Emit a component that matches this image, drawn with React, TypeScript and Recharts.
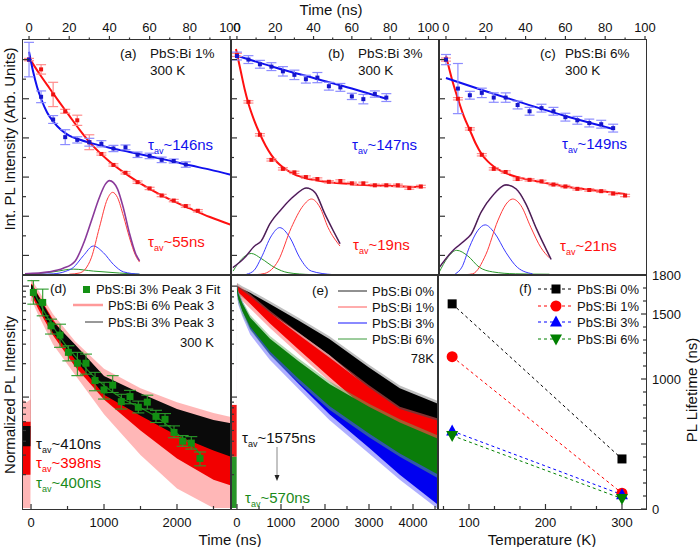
import React from "react";
import { ComposedChart, Line, Area, Scatter, XAxis, YAxis, ErrorBar } from "recharts";

const FONT = '"Liberation Sans", Arial, Helvetica, sans-serif';
const P = 30;

// ---------- (a) PbS:Bi 1%, 300 K ----------
const aRedT = [0, 6, 12, 18, 24, 30, 36, 42, 48, 54, 60, 66, 72, 78, 84];
const aRed = [5.5, 5.25, 4.61, 4.18, 3.95, 3.39, 3.09, 2.81, 2.61, 2.37, 2.21, 2.03, 1.9, 1.76, 1.64];
const aRedErr = [0.03, 0.12, 0.31, 0.05, 0.13, 0.19, 0.03, 0.03, 0.03, 0.03, 0.03, 0.03, 0.03, 0.03, 0.03];
const aBlueT = [0, 6, 12, 18, 24, 30, 36, 42, 48, 54, 60, 66, 72, 78];
const aBlue = [5.5, 4.55, 3.97, 3.52, 3.45, 3.39, 3.35, 3.23, 3.26, 3.07, 3.04, 2.94, 2.91, 2.82];
const aBlueErr = [0.44, 0.15, 0.1, 0.19, 0.08, 0.1, 0.08, 0.08, 0.06, 0.07, 0.07, 0.07, 0.05, 0.07];
const aRedFitT = [0, 5, 10, 15, 20, 25, 30, 40, 50, 60, 70, 80, 90, 100.5];
const aRedFit = [5.55, 5.15, 4.78, 4.42, 4.07, 3.72, 3.4, 2.9, 2.52, 2.2, 1.93, 1.7, 1.48, 1.28];
const aBlueFitT = [0, 2, 4, 6, 9, 12, 16, 20, 25, 30, 40, 50, 60, 70, 80, 90, 100.5];
const aBlueFit = [5.7, 5.2, 4.8, 4.5, 4.15, 3.92, 3.7, 3.56, 3.46, 3.38, 3.25, 3.14, 3.03, 2.92, 2.8, 2.69, 2.56];
const aTotT = [-2, 10, 17, 23, 27, 31, 35, 38, 40, 42, 44, 47, 50, 53, 55];
const aTot = [0.03, 0.08, 0.17, 0.36, 0.79, 1.38, 1.98, 2.32, 2.41, 2.36, 2.2, 1.7, 1.06, 0.55, 0.36];
const aPkRT = [20, 25, 28, 31, 35, 39, 41.6, 44, 47, 50, 53, 55];
const aPkR = [0.02, 0.05, 0.15, 0.44, 1.21, 1.94, 2.11, 1.98, 1.5, 0.95, 0.5, 0.33];
const aPkBT = [5, 12, 18, 22, 27, 32, 37, 42, 47, 55];
const aPkB = [0.02, 0.03, 0.09, 0.19, 0.49, 0.74, 0.57, 0.27, 0.08, 0.02];
const aPkGT = [-2, 5, 12, 22, 32, 45, 55];
const aPkG = [0.02, 0.04, 0.08, 0.15, 0.1, 0.05, 0.02];

// ---------- (b) PbS:Bi 3%, 300 K ----------
const bBlueT = [0, 6, 12, 18, 24, 30, 36, 42, 48, 54, 60, 66, 72, 78];
const bBlue = [5.59, 5.5, 5.38, 5.32, 5.2, 5.11, 5.0, 5.04, 4.82, 4.79, 4.56, 4.49, 4.62, 4.53];
const bBlueErr = [0.1, 0.1, 0.1, 0.1, 0.12, 0.12, 0.1, 0.13, 0.1, 0.1, 0.08, 0.12, 0.08, 0.1];
const bRedT = [0, 6, 12, 18, 24, 30, 36, 42, 48, 54, 60, 66, 72, 78, 84, 90, 96];
const bRed = [5.62, 4.42, 3.58, 2.94, 2.71, 2.62, 2.5, 2.45, 2.38, 2.4, 2.34, 2.34, 2.29, 2.29, 2.29, 2.22, 2.26];
const bRedErr = [0.04, 0.03, 0.03, 0.03, 0.03, 0.03, 0.03, 0.03, 0.03, 0.03, 0.03, 0.03, 0.03, 0.03, 0.03, 0.03, 0.03];
const bBlueFitT = [0, 20, 40, 60, 78];
const bBlueFit = [5.6, 5.3, 5.03, 4.76, 4.5];
const bRedFitT = [-0.5, 2, 4, 6, 9, 12, 15, 18, 21, 24, 30, 36, 45, 60, 80, 97];
const bRedFit = [5.77, 5.2, 4.75, 4.38, 3.95, 3.6, 3.3, 3.06, 2.88, 2.75, 2.57, 2.47, 2.39, 2.32, 2.27, 2.24];
const bTotT = [-2.1, 4, 9.2, 12.7, 17.1, 23.2, 30.2, 36.3, 40.7, 45.9, 50.3, 53.8];
const bTot = [0.19, 0.44, 0.74, 0.87, 1.3, 1.68, 2.03, 2.22, 2.11, 1.56, 1.13, 0.8];
const bPkRT = [10, 14.5, 21.5, 28.4, 34.6, 38.9, 43.3, 47.6, 53.8];
const bPkR = [0.01, 0.04, 0.36, 1.21, 1.77, 1.94, 1.73, 1.21, 0.74];
const bPkBT = [5, 9, 12.7, 18, 22.3, 27.6, 32.8, 38.9, 50];
const bPkB = [0.02, 0.12, 0.44, 1.0, 1.21, 0.96, 0.44, 0.1, 0.01];
const bPkGT = [-2, 2.3, 7.5, 12.7, 19.7, 26.7, 38.9];
const bPkG = [0.1, 0.4, 0.55, 0.42, 0.19, 0.06, 0.01];

// ---------- (c) PbS:Bi 6%, 300 K ----------
const cBlueT = [0, 6, 12, 18, 24, 30, 36, 42, 48, 54, 60, 66, 72, 78, 84];
const cBlue = [5.5, 4.76, 4.59, 4.65, 4.53, 4.53, 4.34, 4.18, 4.26, 4.18, 4.03, 3.95, 3.88, 3.85, 3.75];
const cBlueErr = [0.13, 0.64, 0.1, 0.12, 0.12, 0.12, 0.1, 0.1, 0.1, 0.1, 0.1, 0.1, 0.1, 0.1, 0.1];
const cRedT = [0, 6, 12, 18, 24, 30, 36, 42, 48, 54, 60, 66, 72, 78, 84, 90];
const cRed = [5.5, 4.5, 3.73, 3.07, 2.71, 2.63, 2.45, 2.43, 2.39, 2.31, 2.26, 2.2, 2.17, 2.14, 2.08, 2.03];
const cRedErr = [0.04, 0.03, 0.03, 0.03, 0.03, 0.03, 0.03, 0.03, 0.03, 0.03, 0.03, 0.03, 0.03, 0.03, 0.03, 0.03];
const cBlueFitT = [0, 20, 40, 60, 84];
const cBlueFit = [5.03, 4.69, 4.37, 4.06, 3.73];
const cRedFitT = [0, 3, 6, 9, 12, 15, 18, 21, 24, 30, 36, 45, 60, 75, 90];
const cRedFit = [5.6, 5.0, 4.5, 4.05, 3.7, 3.35, 3.08, 2.9, 2.77, 2.6, 2.5, 2.4, 2.26, 2.16, 2.07];
const cTotT = [-3.4, 3.4, 9.2, 12.6, 17.6, 23.5, 30.2, 35.2, 40.2, 45.2, 50.3, 52.8];
const cTot = [0.19, 0.62, 0.87, 1.04, 1.6, 2.03, 2.3, 2.2, 1.81, 1.21, 0.66, 0.4];
const cPkRT = [10, 13.4, 20.1, 26, 30.2, 33.5, 37.7, 42.7, 47.7, 51.9];
const cPkR = [0.01, 0.03, 0.53, 1.38, 1.81, 1.94, 1.77, 1.21, 0.7, 0.44];
const cPkBT = [4.7, 8, 11.7, 15.9, 19.7, 24.3, 30.2, 36, 43.5];
const cPkB = [0.03, 0.2, 0.7, 1.13, 1.28, 1.08, 0.57, 0.19, 0.03];
const cPkGT = [-3.4, 0.8, 5.4, 10.9, 16.7, 23.4, 35, 52];
const cPkG = [0.07, 0.44, 0.63, 0.49, 0.2, 0.08, 0.03, 0.02];

// ---------- (d) peak 3 decays, 300 K (log) ----------
const dT = [-110, -60, -8, 0, 20, 100, 300, 600, 1000, 1500, 2000, 2500, 2740];
const dRedHaloLo = [0.1, 0.1, 0.1, 7.4, 7.2, 5.5, 3.0, 1.6, 0.7, 0.3, 0.15, 0.1, 0.1];
const dRedHaloHi = [0.95, 0.9, 0.95, 11.5, 11.2, 9.2, 5.6, 3.2, 1.8, 1.2, 0.9, 0.72, 0.66];
const dRedLo = [0.2, 0.2, 0.2, 8.2, 8.0, 6.2, 3.6, 1.9, 0.95, 0.5, 0.28, 0.18, 0.16];
const dRedHi = [0.6, 0.6, 0.6, 10.5, 10.3, 8.3, 5.0, 2.75, 1.5, 0.98, 0.7, 0.55, 0.5];
const dBlkLo = [0.36, 0.36, 0.36, 8.6, 8.4, 6.8, 3.8, 2.2, 1.05, 0.68, 0.45, 0.33, 0.29];
const dBlkHi = [0.55, 0.55, 0.55, 10.3, 10.1, 8.2, 4.8, 3.0, 1.55, 1.08, 0.78, 0.62, 0.58];
const dFitPtT = [32, 160, 274, 397, 512, 635, 753, 877, 1000, 1119, 1237, 1356, 1470, 1593, 1712, 1836, 1959, 2078, 2196, 2315];
const dFitPt = [8.77, 7.13, 4.39, 3.62, 2.53, 2.02, 2.02, 1.41, 1.16, 1.28, 0.91, 1.01, 0.81, 0.9, 0.67, 0.63, 0.48, 0.4, 0.385, 0.28];
const dFitPtLo = [6.88, 5.4, 3.7, 2.81, 2.12, 1.56, 1.61, 1.14, 0.96, 1.1, 0.78, 0.87, 0.72, 0.78, 0.59, 0.55, 0.43, 0.36, 0.34, 0.24];
const dFitPtHi = [11.2, 9.4, 5.04, 4.54, 2.9, 2.53, 2.44, 1.67, 1.36, 1.56, 1.06, 1.15, 0.92, 1.04, 0.76, 0.71, 0.55, 0.45, 0.44, 0.32];
const dFitT = [30, 100, 200, 300, 450, 600, 800, 1000, 1250, 1500, 1750, 2000, 2200, 2330];
const dFit = [9.0, 7.4, 5.6, 4.35, 3.1, 2.35, 1.68, 1.27, 0.97, 0.8, 0.64, 0.47, 0.37, 0.3];

// ---------- (e) 78 K decays (log) ----------
const eT = [-4, 0, 30, 120, 300, 750, 1400, 2100, 3000, 3700, 4570];
const eBlkHaloLo = [0.098, 8.5, 8.3, 7.9, 7.1, 5.3, 3.55, 2.24, 1.11, 0.68, 0.45];
const eBlkHaloHi = [0.11, 10.7, 10.5, 10.0, 9.2, 7.3, 5.2, 3.53, 1.96, 1.27, 0.92];
const eBlkLo = [0.098, 9.1, 8.9, 8.5, 7.6, 5.7, 3.8, 2.4, 1.19, 0.73, 0.48];
const eBlkHi = [0.11, 10.1, 9.9, 9.4, 8.7, 6.9, 4.9, 3.33, 1.85, 1.2, 0.87];
const eRedHaloLo = [0.098, 8.3, 7.95, 7.4, 6.3, 4.2, 2.44, 1.38, 0.67, 0.39, 0.27];
const eRedHaloHi = [0.11, 10.6, 10.1, 9.6, 8.5, 6.0, 3.83, 2.38, 1.28, 0.82, 0.64];
const eRedLo = [0.098, 9.1, 8.75, 8.15, 6.95, 4.6, 2.68, 1.52, 0.74, 0.43, 0.3];
const eRedHi = [0.11, 10.1, 9.65, 9.15, 8.1, 5.75, 3.65, 2.27, 1.22, 0.78, 0.61];
const eBluHaloLo = [0.098, 8.1, 6.8, 5.35, 3.66, 2.16, 1.18, 0.62, 0.31, 0.18, 0.098];
const eBluHaloHi = [0.11, 10.6, 9.0, 7.35, 5.25, 3.3, 2.0, 1.21, 0.7, 0.46, 0.28];
const eBluLo = [0.098, 9.1, 7.65, 6.0, 4.1, 2.42, 1.32, 0.7, 0.35, 0.2, 0.107];
const eBluHi = [0.11, 10.1, 8.6, 7.0, 5.0, 3.15, 1.9, 1.15, 0.67, 0.44, 0.27];
const eGrnHaloLo = [0.098, 8.4, 7.1, 5.55, 4.0, 2.39, 1.35, 0.77, 0.435, 0.29, 0.185];
const eGrnHaloHi = [0.11, 10.7, 9.1, 7.4, 5.5, 3.55, 2.23, 1.39, 0.87, 0.63, 0.45];
const eGrnLo = [0.098, 9.1, 7.65, 6.0, 4.3, 2.58, 1.46, 0.83, 0.47, 0.31, 0.2];
const eGrnHi = [0.11, 10.1, 8.6, 7.0, 5.2, 3.35, 2.1, 1.31, 0.82, 0.59, 0.42];
const ePreT = [-136, -8];
const ePreRedLo = [0.29, 0.29];
const ePreRedHi = [0.85, 0.85];
const ePreGrnLo = [0.1, 0.1];
const ePreGrnHi = [0.29, 0.29];

// ---------- (f) lifetime vs temperature ----------
const fTemp = [78, 300];
const fBi0 = [1578, 385];
const fBi1 = [1172, 122];
const fBi3 = [600, 110];
const fBi6 = [565, 80];

// ---------- ticks ----------
const topTicks = [0, 10, 20, 30, 40, 50, 60, 70, 80, 90, 100];
const topMajor = [0, 20, 40, 60, 80, 100];
const rowTicks = [0.5, 1, 1.5, 2, 2.5, 3, 3.5, 4, 4.5, 5, 5.5];
const rowMajor = [0.5, 1.5, 2.5, 3.5, 4.5, 5.5];
const logTicks = [0.2, 0.3, 0.4, 0.5, 0.6, 0.7, 0.8, 0.9, 1, 2, 3, 4, 5, 6, 7, 8, 9, 10];
const logMajor = [1, 10];
const dTicks = [0, 500, 1000, 1500, 2000, 2500];
const dMajor = [0, 1000, 2000];
const eTicks = [0, 500, 1000, 1500, 2000, 2500, 3000, 3500, 4000, 4500];
const eMajor = [0, 1000, 2000, 3000, 4000];
const fXTicks = [66.67, 100, 133.33, 166.67, 200, 233.33, 266.67, 300];
const fXMajor = [100, 200, 300];
const fYTicks = [0, 100, 200, 300, 400, 500, 600, 700, 800, 900, 1000, 1100, 1200, 1300, 1400, 1500, 1600, 1700, 1800];
const fYMajor = [0, 500, 1000, 1500, 1800];
const fYLabels = [0, 1000, 1500, 1800];

const pts = (xs: number[], ys: number[]) => xs.map((x, i) => ({ x, y: ys[i] }));
const errPts = (xs: number[], ys: number[], es: number[]) => xs.map((x, i) => ({ x, y: ys[i], e: es[i] }));
const rangePts = (xs: number[], ys: number[], lo: number[], hi: number[]) =>
  xs.map((x, i) => ({ x, y: ys[i], e: [ys[i] - lo[i], hi[i] - ys[i]] }));
const band = (xs: number[], lo: number[], hi: number[]) => xs.map((x, i) => ({ x, r: [lo[i], hi[i]] }));

const has = (arr: number[], v: number) => arr.some((m) => Math.abs(m - v) < 1e-6);

function makeTick(side: string, majors: number[], labels: number[], inward: boolean, majLen = 6, minLen = 3) {
  return (p: any) => {
    const v = Number(p.payload.value);
    const len = has(majors, v) ? majLen : minLen;
    const s = inward ? 1 : -1;
    const x = p.x;
    const y = p.y;
    let x2 = x;
    let y2 = y;
    if (side === "bottom") y2 = y - s * len;
    if (side === "top") y2 = y + s * len;
    if (side === "left") x2 = x + s * len;
    if (side === "right") x2 = x - s * len;
    let label = null;
    if (has(labels, v)) {
      const txt = Math.round(v).toString();
      if (side === "top")
        label = <text x={x} y={y - 13} textAnchor="middle" dominantBaseline="central" fontSize={13} fill="#111">{txt}</text>;
      if (side === "bottom")
        label = <text x={x} y={y + 13} textAnchor="middle" dominantBaseline="central" fontSize={13} fill="#111">{txt}</text>;
      if (side === "right")
        label = <text x={x + 6} y={y} textAnchor="start" dominantBaseline="central" fontSize={13} fill="#111">{txt}</text>;
    }
    return (
      <g>
        <line x1={x} y1={y} x2={x2} y2={y2} stroke="#333" strokeWidth={1.2} />
        {label}
      </g>
    );
  };
}

const topTick = makeTick("top", topMajor, topMajor, false, 4, 2.5);
const rowTick = makeTick("left", rowMajor, [], true, 6, 3);
const logTick = makeTick("left", logMajor, [], true, 6, 3);

type Box = { x0: number; y0: number; x1: number; y1: number };
const A: Box = { x0: 23, y0: 40, x1: 231, y1: 275 };
const B: Box = { x0: 231, y0: 40, x1: 439, y1: 275 };
const C: Box = { x0: 439, y0: 40, x1: 646, y1: 275 };
const D: Box = { x0: 23, y0: 275, x1: 231, y1: 509 };
const E: Box = { x0: 231, y0: 275, x1: 438, y1: 509 };
const F: Box = { x0: 438, y0: 275, x1: 646, y1: 509 };

const sq = (color: string, s: number) => (p: any) =>
  <rect x={p.cx - s / 2} y={p.cy - s / 2} width={s} height={s} fill={color} />;

function TopPanel(props: any) {
  const { box, xd, red, blue, redFit, blueFit, tot, pkR, pkB, pkG, dark } = props;
  const w = box.x1 - box.x0;
  const h = box.y1 - box.y0;
  return (
    <div style={{ position: "absolute", left: box.x0 - P, top: box.y0 - P }}>
      <ComposedChart width={w + 2 * P} height={h + 2 * P} margin={{ top: 0, right: P, bottom: P, left: 0 }}>
        <XAxis dataKey="x" type="number" orientation="top" height={P} domain={xd} allowDataOverflow
          ticks={topTicks} interval={0} tickSize={0} tickMargin={0} tickLine={false} axisLine={false} tick={topTick} />
        <YAxis type="number" width={P} domain={[0, 6]} allowDataOverflow ticks={rowTicks} interval={0}
          tickSize={0} tickMargin={0} tickLine={false} axisLine={false} tick={rowTick} />
        <Line data={pkG} dataKey="y" type="monotone" stroke="#2a9a2a" strokeWidth={1} dot={false} isAnimationActive={false} />
        <Line data={pkB} dataKey="y" type="monotone" stroke="#3a3aff" strokeWidth={1} dot={false} isAnimationActive={false} />
        <Line data={pkR} dataKey="y" type="monotone" stroke="#ff3a3a" strokeWidth={1} dot={false} isAnimationActive={false} />
        <Line data={tot} dataKey="y" type="monotone" stroke="#8a3a9a" strokeWidth={1.6} dot={false} isAnimationActive={false} />
        {dark ? (
          <Line data={tot} dataKey="y" type="monotone" stroke="#222" strokeWidth={0.8} dot={false} isAnimationActive={false} />
        ) : null}
        <Line data={redFit} dataKey="y" type="monotone" stroke="#ff1010" strokeWidth={2} dot={false} isAnimationActive={false} />
        <Line data={blueFit} dataKey="y" type="monotone" stroke="#1010ee" strokeWidth={2} dot={false} isAnimationActive={false} />
        <Scatter data={red} dataKey="y" shape={sq("#ee1111", 4)} isAnimationActive={false}>
          <ErrorBar dataKey="e" direction="y" width={5} stroke="#ff8c8c" strokeWidth={1.2} />
        </Scatter>
        <Scatter data={blue} dataKey="y" shape={sq("#1515cc", 4)} isAnimationActive={false}>
          <ErrorBar dataKey="e" direction="y" width={5} stroke="#8c8cff" strokeWidth={1.2} />
        </Scatter>
      </ComposedChart>
    </div>
  );
}

function PanelD() {
  const box = D;
  const w = box.x1 - box.x0;
  const h = box.y1 - box.y0;
  return (
    <div style={{ position: "absolute", left: box.x0 - P, top: box.y0 - P }}>
      <ComposedChart width={w + 2 * P} height={h + 2 * P} margin={{ top: P, right: P, bottom: 0, left: 0 }}>
        <XAxis dataKey="x" type="number" orientation="bottom" height={P} domain={[-110, 2740]} allowDataOverflow
          ticks={dTicks} interval={0} tickSize={0} tickMargin={0} tickLine={false} axisLine={false}
          tick={makeTick("bottom", dMajor, dMajor, true, 5, 3)} />
        <YAxis type="number" scale="log" width={P} domain={[0.098, 12.6]} allowDataOverflow ticks={logTicks}
          interval={0} tickSize={0} tickMargin={0} tickLine={false} axisLine={false} tick={logTick} />
        <Area data={band(dT, dRedHaloLo, dRedHaloHi)} dataKey="r" type="linear" stroke="none" fill="#ff7070" fillOpacity={0.5} dot={false} activeDot={false} isAnimationActive={false} />
        <Area data={band(dT, dRedLo, dRedHi)} dataKey="r" type="linear" stroke="none" fill="#f20000" fillOpacity={1} dot={false} activeDot={false} isAnimationActive={false} />
        <Area data={band(dT, dBlkLo, dBlkHi)} dataKey="r" type="linear" stroke="none" fill="#0a0a0a" fillOpacity={1} dot={false} activeDot={false} isAnimationActive={false} />
        <Line data={pts(dFitT, dFit)} dataKey="y" type="monotone" stroke="#1a8a1a" strokeWidth={1.2} dot={false} isAnimationActive={false} />
        <Scatter data={rangePts(dFitPtT, dFitPt, dFitPtLo, dFitPtHi)} dataKey="y" shape={sq("#139013", 7)} isAnimationActive={false}>
          <ErrorBar dataKey="e" direction="y" width={6} stroke="#2a9a2a" strokeWidth={1.1} />
        </Scatter>
      </ComposedChart>
    </div>
  );
}

function PanelE() {
  const box = E;
  const w = box.x1 - box.x0;
  const h = box.y1 - box.y0;
  const A2 = (lo: number[], hi: number[], c: string, op: number, xs = eT) => (
    <Area data={band(xs, lo, hi)} dataKey="r" type="linear" stroke="none" fill={c} fillOpacity={op} dot={false} activeDot={false} isAnimationActive={false} />
  );
  return (
    <div style={{ position: "absolute", left: box.x0 - P, top: box.y0 - P }}>
      <ComposedChart width={w + 2 * P} height={h + 2 * P} margin={{ top: P, right: P, bottom: 0, left: 0 }}>
        <XAxis dataKey="x" type="number" orientation="bottom" height={P} domain={[-136, 4568]} allowDataOverflow
          ticks={eTicks} interval={0} tickSize={0} tickMargin={0} tickLine={false} axisLine={false}
          tick={makeTick("bottom", eMajor, eMajor, true, 5, 3)} />
        <YAxis type="number" scale="log" width={P} domain={[0.098, 12.6]} allowDataOverflow ticks={logTicks}
          interval={0} tickSize={0} tickMargin={0} tickLine={false} axisLine={false} tick={logTick} />
        {A2(ePreRedLo, ePreRedHi, "#f00000", 0.9, ePreT)}
        {A2(ePreGrnLo, ePreGrnHi, "#108a10", 0.9, ePreT)}
        {A2(eBlkHaloLo, eBlkHaloHi, "#707070", 0.45)}
        {A2(eBlkLo, eBlkHi, "#000000", 1)}
        {A2(eRedHaloLo, eRedHaloHi, "#ff6060", 0.5)}
        {A2(eRedLo, eRedHi, "#f50000", 1)}
        {A2(eBluHaloLo, eBluHaloHi, "#6060ff", 0.5)}
        {A2(eBluLo, eBluHi, "#0000f0", 1)}
        {A2(eGrnHaloLo, eGrnHaloHi, "#60b060", 0.5)}
        {A2(eGrnLo, eGrnHi, "#0a7d0a", 1)}
      </ComposedChart>
    </div>
  );
}

function Mark({ kind, cx, cy, color }: any) {
  if (kind === "square") return <rect x={cx - 4.5} y={cy - 4.5} width={9} height={9} fill={color} />;
  if (kind === "circle") return <circle cx={cx} cy={cy} r={5.5} fill={color} />;
  if (kind === "up")
    return <polygon points={`${cx},${cy - 6.5} ${cx + 6},${cy + 4.5} ${cx - 6},${cy + 4.5}`} fill={color} />;
  return <polygon points={`${cx},${cy + 6.5} ${cx + 6},${cy - 4.5} ${cx - 6},${cy - 4.5}`} fill={color} />;
}

const fSeries = [
  { name: "PbS:Bi 0%", vals: fBi0, color: "#000000", kind: "square" },
  { name: "PbS:Bi 1%", vals: fBi1, color: "#ff0000", kind: "circle" },
  { name: "PbS:Bi 3%", vals: fBi3, color: "#0000ff", kind: "up" },
  { name: "PbS:Bi 6%", vals: fBi6, color: "#008000", kind: "down" },
];

function PanelF() {
  const box = F;
  const w = box.x1 - box.x0;
  const h = box.y1 - box.y0;
  const R = 45;
  return (
    <div style={{ position: "absolute", left: box.x0 - P, top: box.y0 - P }}>
      <ComposedChart width={w + P + R} height={h + 2 * P} margin={{ top: P, right: 0, bottom: 0, left: P }}>
        <XAxis dataKey="x" type="number" orientation="bottom" height={P} domain={[59.5, 331.4]} allowDataOverflow
          ticks={fXTicks} interval={0} tickSize={0} tickMargin={0} tickLine={false} axisLine={false}
          tick={makeTick("bottom", fXMajor, fXMajor, true, 5, 3)} />
        <YAxis type="number" orientation="right" width={R} domain={[0, 1800]} allowDataOverflow ticks={fYTicks}
          interval={0} tickSize={0} tickMargin={0} tickLine={false} axisLine={false}
          tick={makeTick("right", fYMajor, fYLabels, true, 5, 3)} />
        {fSeries.map((s) => (
          <Line key={s.name} data={pts(fTemp, s.vals)} dataKey="y" type="linear" stroke={s.color} strokeWidth={1}
            strokeDasharray="3 3" isAnimationActive={false}
            dot={(p: any) => <Mark key={`${s.name}-${p.index}`} kind={s.kind} cx={p.cx} cy={p.cy} color={s.color} />} />
        ))}
      </ComposedChart>
    </div>
  );
}

function Frame({ box }: { box: Box }) {
  return (
    <div style={{ position: "absolute", left: box.x0 - 0.75, top: box.y0 - 0.75, width: box.x1 - box.x0 + 1.5,
      height: box.y1 - box.y0 + 1.5, border: "1.5px solid #333", boxSizing: "border-box", pointerEvents: "none" }} />
  );
}

function T({ x, y, children, color = "#111", size = 13.5, anchor = "start", rotate = false }: any) {
  const tx = anchor === "start" ? "0" : anchor === "end" ? "-100%" : "-50%";
  return (
    <div style={{ position: "absolute", left: x, top: y, color, fontSize: size, lineHeight: 1, whiteSpace: "nowrap",
      transform: rotate ? "translate(-50%, -50%) rotate(-90deg)" : `translate(${tx}, -50%)` }}>
      {children}
    </div>
  );
}

function Tau({ x, y, color, val }: any) {
  return (
    <T x={x} y={y} color={color} size={15}>
      τ<span style={{ fontSize: 9, position: "relative", top: 4 }}>av</span>~{val}ns
    </T>
  );
}

function LegLine({ x, y, w, color, width = 1 }: any) {
  return (
    <svg style={{ position: "absolute", left: x, top: y - 5 }} width={w} height={10}>
      <line x1={0} y1={5} x2={w} y2={5} stroke={color} strokeWidth={width} />
    </svg>
  );
}

export default function App() {
  return (
    <div style={{ position: "absolute", left: 0, top: 0, width: 700, height: 547, overflow: "hidden",
      background: "#fff", fontFamily: FONT }}>
      <TopPanel box={A} xd={[-3, 100.5]} red={errPts(aRedT, aRed, aRedErr)} blue={errPts(aBlueT, aBlue, aBlueErr)}
        redFit={pts(aRedFitT, aRedFit)} blueFit={pts(aBlueFitT, aBlueFit)} tot={pts(aTotT, aTot)}
        pkR={pts(aPkRT, aPkR)} pkB={pts(aPkBT, aPkB)} pkG={pts(aPkGT, aPkG)} dark={false} />
      <TopPanel box={B} xd={[-3.1, 105.5]} red={errPts(bRedT, bRed, bRedErr)} blue={errPts(bBlueT, bBlue, bBlueErr)}
        redFit={pts(bRedFitT, bRedFit)} blueFit={pts(bBlueFitT, bBlueFit)} tot={pts(bTotT, bTot)}
        pkR={pts(bPkRT, bPkR)} pkB={pts(bPkBT, bPkB)} pkG={pts(bPkGT, bPkG)} dark={true} />
      <TopPanel box={C} xd={[-3.5, 100.5]} red={errPts(cRedT, cRed, cRedErr)} blue={errPts(cBlueT, cBlue, cBlueErr)}
        redFit={pts(cRedFitT, cRedFit)} blueFit={pts(cBlueFitT, cBlueFit)} tot={pts(cTotT, cTot)}
        pkR={pts(cPkRT, cPkR)} pkB={pts(cPkBT, cPkB)} pkG={pts(cPkGT, cPkG)} dark={true} />
      <PanelD />
      <PanelE />
      <PanelF />
      {[A, B, C, D, E, F].map((b, i) => <Frame key={i} box={b} />)}

      {/* axis titles */}
      <T x={331} y={9} size={15} anchor="middle">Time (ns)</T>
      <T x={230} y={539} size={15} anchor="middle">Time (ns)</T>
      <T x={542} y={539} size={15} anchor="middle">Temperature (K)</T>
      <T x={9} y={139} size={15} rotate>Int. PL Intensity (Arb. Units)</T>
      <T x={9} y={395} size={15} rotate>Normalized PL Intensity</T>
      <T x={691} y={390} size={15} rotate>PL Lifetime (ns)</T>

      {/* (a) */}
      <T x={120} y={54}>(a)</T>
      <T x={150} y={54}>PbS:Bi 1%</T>
      <T x={150} y={71}>300 K</T>
      <Tau x={148} y={144} color="#1010ee" val="146" />
      <Tau x={148} y={241} color="#ff1010" val="55" />
      {/* (b) */}
      <T x={328} y={54}>(b)</T>
      <T x={358} y={54}>PbS:Bi 3%</T>
      <T x={358} y={71}>300 K</T>
      <Tau x={352} y={144} color="#1010ee" val="147" />
      <Tau x={353} y={244} color="#ff1010" val="19" />
      {/* (c) */}
      <T x={540} y={54}>(c)</T>
      <T x={565} y={54}>PbS:Bi 6%</T>
      <T x={565} y={71}>300 K</T>
      <Tau x={562} y={143} color="#1010ee" val="149" />
      <Tau x={560} y={245} color="#ff1010" val="21" />

      {/* (d) */}
      <T x={50} y={289}>(d)</T>
      <div style={{ position: "absolute", left: 82.5, top: 285.5, width: 7, height: 7, background: "#139013" }} />
      <T x={96} y={289} size={13}>PbS:Bi 3% Peak 3 Fit</T>
      <LegLine x={73} y={305} w={30} color="#ff9a9a" width={2.5} />
      <T x={108} y={305} size={13}>PbS:Bi 6% Peak 3</T>
      <LegLine x={85} y={322} w={18} color="#333" width={1} />
      <T x={108} y={322} size={13}>PbS:Bi 3% Peak 3</T>
      <T x={180} y={342} size={13}>300 K</T>
      <Tau x={36} y={443} color="#111" val="410" />
      <Tau x={36} y={462} color="#ff0000" val="398" />
      <Tau x={36} y={482} color="#1a8a1a" val="400" />

      {/* (e) */}
      <T x={312} y={291}>(e)</T>
      <LegLine x={338} y={291} w={29} color="#222" />
      <T x={372} y={291} size={13}>PbS:Bi 0%</T>
      <LegLine x={338} y={307} w={29} color="#ff5a5a" />
      <T x={372} y={307} size={13}>PbS:Bi 1%</T>
      <LegLine x={338} y={323} w={29} color="#8a8aff" width={2} />
      <T x={372} y={323} size={13}>PbS:Bi 3%</T>
      <LegLine x={338} y={339} w={29} color="#3a9a3a" />
      <T x={372} y={339} size={13}>PbS:Bi 6%</T>
      <T x={434} y={358} size={13} anchor="end">78K</T>
      <Tau x={242} y={437} color="#111" val="1575" />
      <svg style={{ position: "absolute", left: 272, top: 447 }} width={10} height={36}>
        <line x1={5} y1={0} x2={5} y2={30} stroke="#888" strokeWidth={1} />
        <polygon points="2.5,28 7.5,28 5,34" fill="#222" />
      </svg>
      <Tau x={245} y={497} color="#1a8a1a" val="570" />

      {/* (f) */}
      <T x={519} y={289}>(f)</T>
      {fSeries.map((s, i) => (
        <React.Fragment key={s.name}>
          <svg style={{ position: "absolute", left: 538, top: 289 + i * 16.7 - 8 }} width={36} height={16}>
            <line x1={0} y1={8} x2={36} y2={8} stroke={s.color} strokeWidth={1} strokeDasharray="3 3" />
            <Mark kind={s.kind} cx={18} cy={8} color={s.color} />
          </svg>
          <T x={577} y={289 + i * 16.7} size={13}>{s.name}</T>
        </React.Fragment>
      ))}
    </div>
  );
}
